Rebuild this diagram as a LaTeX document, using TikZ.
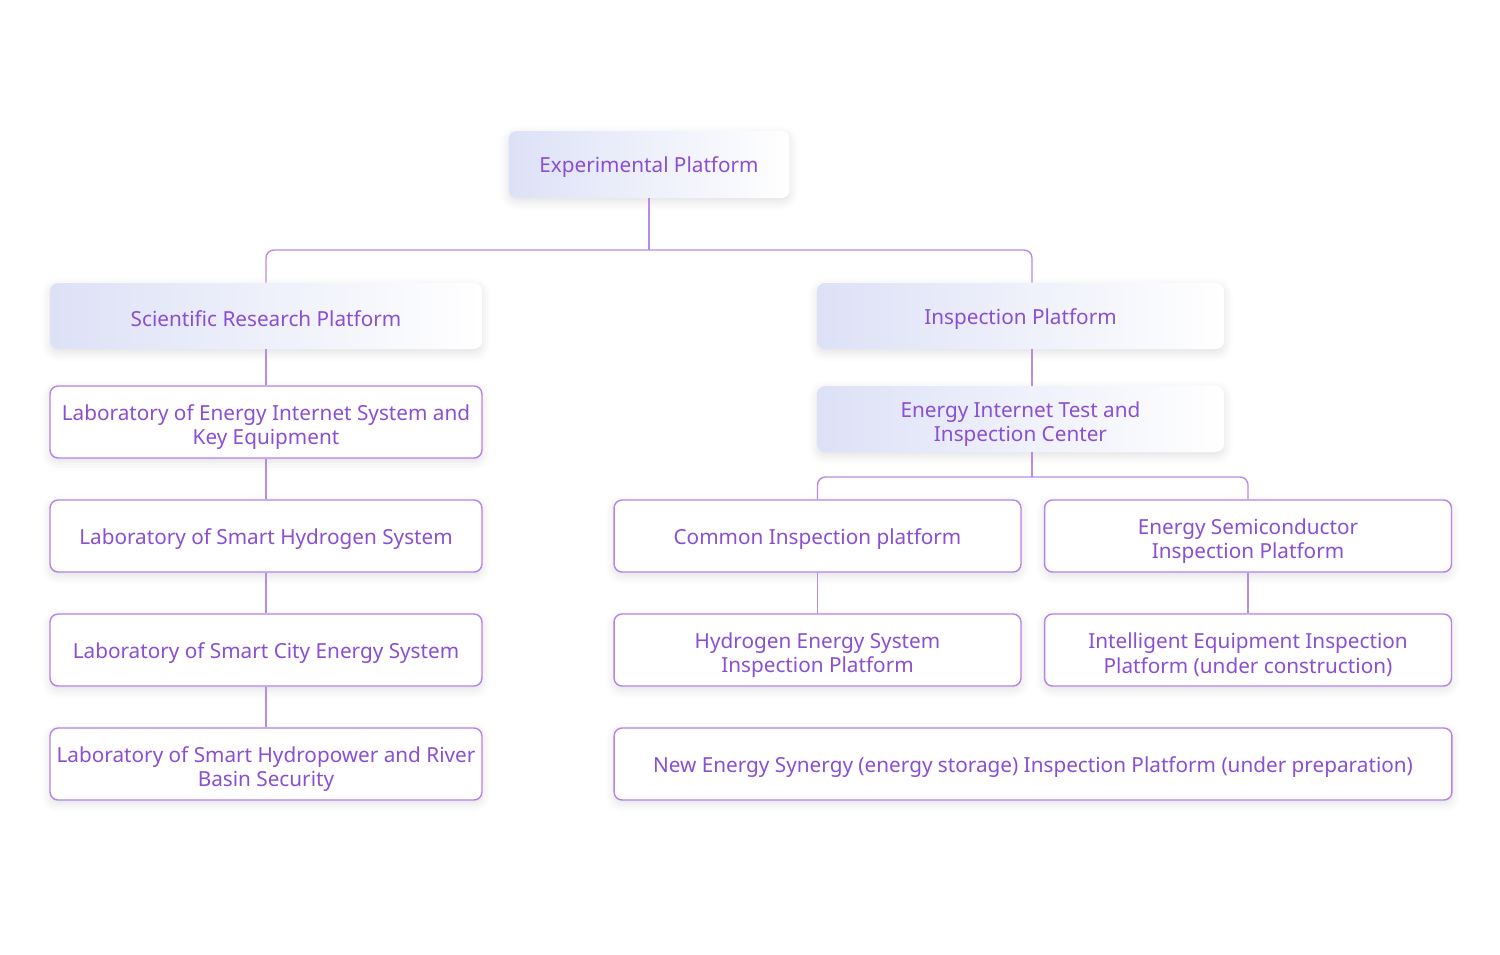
\documentclass[tikz,border=0pt]{standalone}
\usepackage{fontspec}
\setmainfont{Noto Sans}
\usetikzlibrary{shadows.blur}
\definecolor{ink}{HTML}{8A4FD2}
\definecolor{edge}{HTML}{B583EA}
\definecolor{wire}{HTML}{B98AE8}
\definecolor{lav}{HTML}{DDE1F6}
\newcommand\tall{\rule{0pt}{1.25em}}
\tikzset{
  txt/.style={text=ink, font=\fontsize{11.8}{14.2}\selectfont, align=center, inner sep=2pt,
    execute at begin node={\rule{0pt}{1.05em}}},
  soft/.style={blur shadow={shadow xshift=0pt, shadow yshift=-2pt, shadow blur radius=5pt, shadow opacity=12}},
  platform/.style={txt, soft, rounded corners=0.16cm, left color=lav, right color=white},
  lab/.style={txt, soft, rounded corners=0.16cm, draw=edge, fill=white, line width=0.8pt},
  link/.style={draw=wire, line width=0.8pt, rounded corners=0.16cm}
}
\begin{document}
\begin{tikzpicture}[x=0.02cm, y=-0.02cm]
\useasboundingbox (0,0) rectangle (1500,954);
% top
\node [platform, minimum width=5.62cm, minimum height=1.34cm] (exp) at (649,164.5) {Experimental Platform};
% left column
\node [platform, minimum width=8.64cm, minimum height=1.32cm] (sci) at (266,316) {Scientific Research Platform};
\node [lab, minimum width=8.64cm, minimum height=1.44cm] (eis) at (266,422) {\tall Laboratory of Energy Internet System and\\Key Equipment};
\node [lab, minimum width=8.64cm, minimum height=1.44cm] (hyd) at (266,536) {Laboratory of Smart Hydrogen System};
\node [lab, minimum width=8.64cm, minimum height=1.44cm] (city) at (266,650) {Laboratory of Smart City Energy System};
\node [lab, minimum width=8.64cm, minimum height=1.44cm, inner xsep=0pt] (river) at (266,764) {\tall Laboratory of Smart Hydropower and River\\Basin Security};
% right column
\node [platform, minimum width=8.14cm, minimum height=1.32cm] (insp) at (1020.5,316) {Inspection Platform};
\node [platform, minimum width=8.14cm, minimum height=1.32cm] (eit) at (1020.5,419) {\tall Energy Internet Test and\\Inspection Center};
\node [lab, minimum width=8.14cm, minimum height=1.44cm] (common) at (817.5,536) {Common Inspection platform};
\node [lab, minimum width=8.14cm, minimum height=1.44cm] (semi) at (1248,536) {\tall Energy Semiconductor\\Inspection Platform};
\node [lab, minimum width=8.14cm, minimum height=1.44cm] (h2) at (817.5,650) {\tall Hydrogen Energy System\\Inspection Platform};
\node [lab, minimum width=8.14cm, minimum height=1.44cm] (smart) at (1248,650) {\tall Intelligent Equipment Inspection\\Platform (under construction)};
\node [lab, minimum width=16.76cm, minimum height=1.44cm] (synergy) at (1033,764) {New Energy Synergy (energy storage) Inspection Platform (under preparation)};
% connectors
\coordinate (bus) at (649,250);
\coordinate (spine) at (1032,0);
\coordinate (split) at (1032,477);
\draw [link] (exp.south) -- (bus);
\draw [link] (sci.north) |- (bus) -| (insp.north -| spine);
\draw [link] (sci) -- (eis);
\draw [link] (eis) -- (hyd);
\draw [link] (hyd) -- (city);
\draw [link] (city) -- (river);
\draw [link] (insp.south -| spine) -- (eit.north -| spine);
\draw [link] (eit.south -| spine) -- (split);
\draw [link] (common.north) |- (split) -| (semi.north);
\draw [link] (common) -- (h2);
\draw [link] (semi) -- (smart);
\end{tikzpicture}
\end{document}
